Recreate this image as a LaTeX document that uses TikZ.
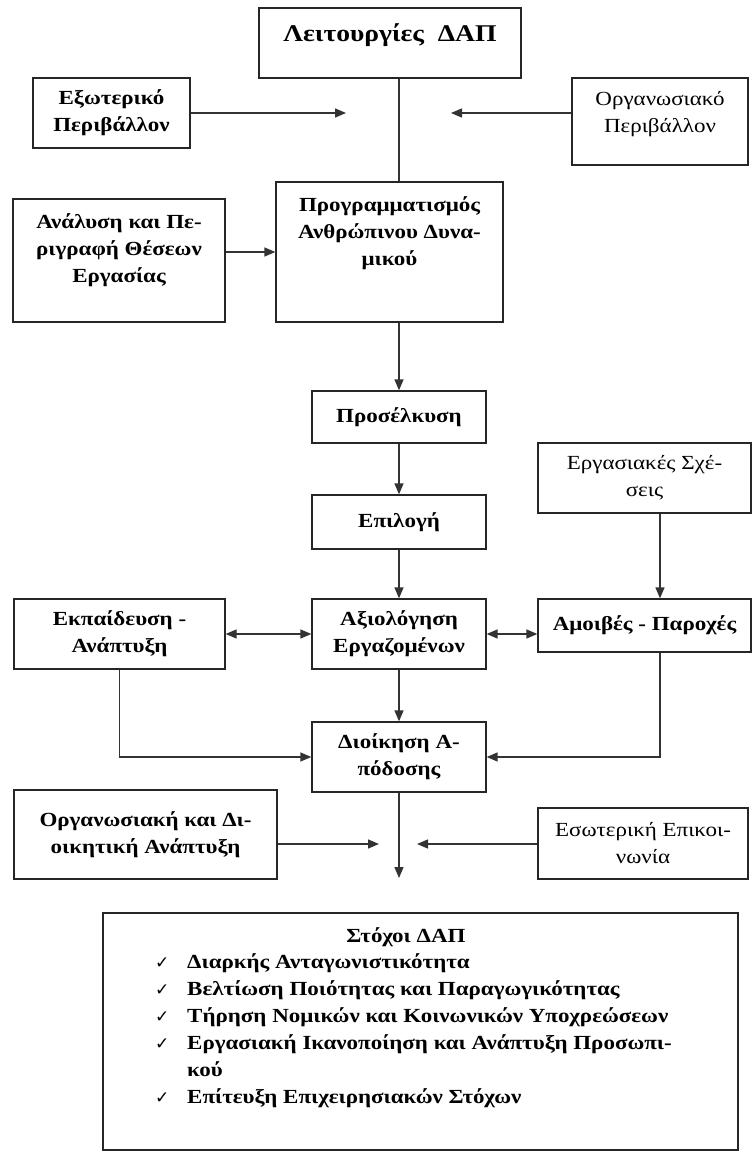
\documentclass[tikz,border=0pt]{standalone}
\usepackage{fontspec}
\setmainfont{Liberation Serif}[FakeStretch=1.15]
\newfontfamily\checkfont{DejaVu Sans}
\usetikzlibrary{arrows.meta}
\newcommand{\tick}{{\checkfont\mdseries\fontsize{17}{17}\selectfont ✓}}
\tikzset{
  box/.style={draw=black!85, line width=1.3pt, inner sep=0pt, align=center,
    font=\fontsize{20}{27}\selectfont\bfseries},
  lbl/.style={inner sep=0pt, align=center, font=\fontsize{20}{27}\selectfont\bfseries},
  thin/.style={font=\fontsize{20}{27}\selectfont},
  conn/.style={draw=black!80, line width=1.4pt},
  tip/.style={-{Triangle[length=11pt,width=9pt]}},
  both/.style={{Triangle[length=11pt,width=9pt]}-{Triangle[length=11pt,width=9pt]}}
}
\begin{document}
\begin{tikzpicture}[x=1pt,y=-1pt]
  \useasboundingbox (0,0) rectangle (753,1153);
  % upper part
  \node[box, minimum width=262pt, minimum height=70pt] (leit) at (390,43) {};
  \node[lbl, font=\fontsize{24}{30}\selectfont\bfseries] (leit-t) at (390,35) {Λειτουργίες~~ΔΑΠ};
  \node[box, minimum width=157pt, minimum height=70pt] (ext) at (111.5,113) {Εξωτερικό\\Περιβάλλον};
  \node[box, minimum width=176pt, minimum height=87pt] (org) at (660,121.5) {};
  \node[lbl, thin] (org-t) at (660,114) {Οργανωσιακό\\Περιβάλλον};
  \node[box, minimum width=227pt, minimum height=140pt] (prog) at (389.5,252) {};
  \node[lbl] (prog-t) at (389.5,233) {Προγραμματισμός\\Ανθρώπινου Δυνα-\\μικού};
  \node[box, minimum width=212pt, minimum height=123pt] (anal) at (119,260.5) {};
  \node[lbl] (anal-t) at (119,250) {Ανάλυση και Πε-\\ριγραφή Θέσεων\\Εργασίας};
  \coordinate (inL) at (346,113);
  \coordinate (inR) at (451,113);
  % main chain
  \node[box, minimum width=174pt, minimum height=52pt] (pros) at (399,417) {Προσέλκυση};
  \node[box, minimum width=174pt, minimum height=54pt] (epil) at (399,522) {Επιλογή};
  \node[box, thin, minimum width=213pt, minimum height=70pt] (erg) at (644.5,478) {Εργασιακές Σχέ-\\σεις};
  \node[box, minimum width=211pt, minimum height=70pt] (ekp) at (119.5,634) {Εκπαίδευση -\\Ανάπτυξη};
  \node[box, minimum width=174pt, minimum height=70pt] (axi) at (399,634) {Αξιολόγηση\\Εργαζομένων};
  \node[box, minimum width=213pt, minimum height=53pt] (amoi) at (644.5,625.5) {Αμοιβές - Παροχές};
  \node[box, minimum width=174pt, minimum height=70pt] (dioik) at (399,757) {Διοίκηση Α-\\πόδοσης};
  \coordinate (rx) at (660,0);
  % lower part
  \node[box, minimum width=263pt, minimum height=89pt] (orgd) at (145.5,834.5) {Οργανωσιακή και Δι-\\οικητική Ανάπτυξη};
  \node[box, thin, minimum width=210pt, minimum height=71pt] (eso) at (643,843.5) {Εσωτερική Επικοι-\\νωνία};
  \coordinate (goalin) at (399,878);
  \coordinate (midL) at (379,844);
  \coordinate (midR) at (417,844);
  \node[box, minimum width=635pt, minimum height=237pt] (goal) at (420.5,1031.5) {};
  \node[lbl] (goal-t) at (406,937) {Στόχοι ΔΑΠ};
  \node[lbl, anchor=north west, align=left] (goal-l) at (155,949) {%
    \begin{tabular}{@{}p{32pt}@{}l@{}}
      \tick & Διαρκής Ανταγωνιστικότητα\\
      \tick & Βελτίωση Ποιότητας και Παραγωγικότητας\\
      \tick & Τήρηση Νομικών και Κοινωνικών Υποχρεώσεων\\
      \tick & Εργασιακή Ικανοποίηση και Ανάπτυξη Προσωπι-\\
      & κού\\
      \tick & Επίτευξη Επιχειρησιακών Στόχων
    \end{tabular}};
  % connectors
  \draw[conn] (leit.south -| pros.north) -- (prog.north -| pros.north);
  \draw[conn, tip] (ext.east) -- (inL);
  \draw[conn, tip] (org.west |- inR) -- (inR);
  \draw[conn, tip] (anal.east |- prog.west) -- (prog.west);
  \draw[conn, tip] (prog.south -| pros.north) -- (pros.north);
  \draw[conn, tip] (pros) -- (epil);
  \draw[conn, tip] (epil) -- (axi);
  \draw[conn, tip] (erg.south -| rx) -- (amoi.north -| rx);
  \draw[conn, both] (ekp.east) -- (axi.west);
  \draw[conn, both] (axi.east) -- (amoi.west |- axi.east);
  \draw[conn, tip] (axi) -- (dioik);
  \draw[conn, tip] (ekp.south) |- (dioik.west);
  \draw[conn, tip] (amoi.south -| rx) |- (dioik.east);
  \draw[conn, tip] (dioik.south) -- (goalin);
  \draw[conn, tip] (orgd.east |- midL) -- (midL);
  \draw[conn, tip] (eso.west |- midR) -- (midR);
\end{tikzpicture}
\end{document}
